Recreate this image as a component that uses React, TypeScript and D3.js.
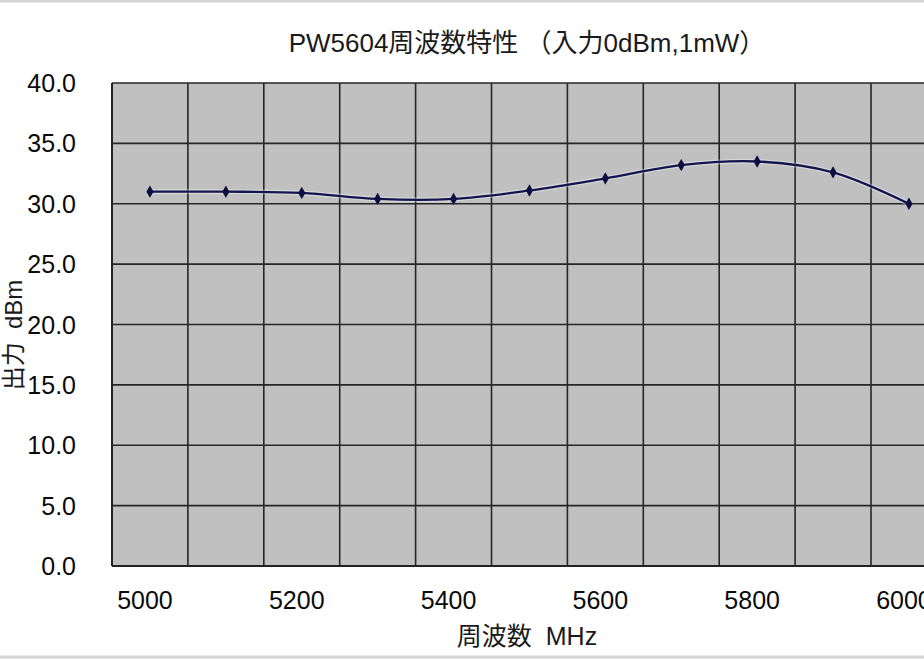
import React, { useRef, useEffect } from 'react';
import * as d3 from 'd3';

// 周波数 (MHz) and 出力 (dBm)
const frequencies = [5000, 5100, 5200, 5300, 5400, 5500, 5600, 5700, 5800, 5900, 6000];
const outputs = [31.0, 31.0, 30.9, 30.4, 30.4, 31.1, 32.1, 33.2, 33.5, 32.6, 30.0];
const xTickLabels = [5000, 5200, 5400, 5600, 5800, 6000];
const yTicks = [0, 5, 10, 15, 20, 25, 30, 35, 40];

const title = 'PW5604周波数特性\u00a0（入力0dBm,1mW）';
const xTitle = '周波数\u00a0\u00a0MHz';
const yTitle = '出力\u00a0\u00a0dBm';

const fontFamily = '"Liberation Sans", Arial, "Noto Sans CJK JP", sans-serif';

const App: React.FC = () => {
  const svgRef = useRef<SVGSVGElement>(null);
  const width = 924;
  const height = 660;
  const plot = { left: 112, top: 83, bottom: 566, band: 75.9 };

  useEffect(() => {
    if (!svgRef.current) return;
    const svg = d3.select(svgRef.current);
    svg.selectAll('*').remove();

    const x = d3.scaleBand<number>()
      .domain(frequencies)
      .range([plot.left, plot.left + plot.band * frequencies.length])
      .padding(0);

    const y = d3.scaleLinear()
      .domain([0, 40])
      .range([plot.bottom, plot.top]);

    const xCenter = (f: number) => (x(f) || 0) + x.bandwidth() / 2;
    const [x0, x1] = x.range();

    // page frame lines
    svg.append('rect').attr('x', 0).attr('y', 0).attr('width', width).attr('height', height).attr('fill', '#fff');
    svg.append('line').attr('x1', 0).attr('x2', width).attr('y1', 1).attr('y2', 1)
      .attr('stroke', '#d4d4d4').attr('stroke-width', 3);
    svg.append('line').attr('x1', 0).attr('x2', width).attr('y1', 657).attr('y2', 657)
      .attr('stroke', '#d4d4d4').attr('stroke-width', 3);

    // plot area
    svg.append('rect')
      .attr('x', x0).attr('y', plot.top)
      .attr('width', x1 - x0).attr('height', plot.bottom - plot.top)
      .attr('fill', '#c0c0c0');

    // horizontal grid
    svg.append('g')
      .selectAll('line')
      .data(yTicks.filter(t => t > 0))
      .join('line')
      .attr('x1', x0).attr('x2', x1)
      .attr('y1', d => y(d)).attr('y2', d => y(d))
      .attr('stroke', '#262626').attr('stroke-width', 1.6);

    // vertical grid at category boundaries
    svg.append('g')
      .selectAll('line')
      .data(frequencies.slice(1))
      .join('line')
      .attr('x1', d => x(d) || 0).attr('x2', d => x(d) || 0)
      .attr('y1', plot.top).attr('y2', plot.bottom)
      .attr('stroke', '#262626').attr('stroke-width', 1.6);

    // axes lines
    svg.append('line').attr('x1', x0).attr('x2', x0).attr('y1', plot.top).attr('y2', plot.bottom)
      .attr('stroke', '#222').attr('stroke-width', 2);
    svg.append('line').attr('x1', x0).attr('x2', x1).attr('y1', plot.bottom).attr('y2', plot.bottom)
      .attr('stroke', '#222').attr('stroke-width', 2);

    // series line
    const line = d3.line<number>()
      .x((_, i) => xCenter(frequencies[i]))
      .y(d => y(d))
      .curve(d3.curveCatmullRom.alpha(0));

    svg.append('path')
      .datum(outputs)
      .attr('d', line)
      .attr('fill', 'none')
      .attr('stroke', '#ffffff')
      .attr('stroke-opacity', 0.35)
      .attr('stroke-width', 5);

    svg.append('path')
      .datum(outputs)
      .attr('d', line)
      .attr('fill', 'none')
      .attr('stroke', '#14144e')
      .attr('stroke-width', 2.3);

    // diamond markers
    svg.append('g')
      .selectAll('path')
      .data(outputs)
      .join('path')
      .attr('transform', (d, i) => `translate(${xCenter(frequencies[i])},${y(d)})`)
      .attr('d', d3.symbol(d3.symbolDiamond, 44)())
      .attr('fill', '#0c0c40');

    // y tick labels
    svg.append('g')
      .selectAll('text')
      .data(yTicks)
      .join('text')
      .attr('x', 76)
      .attr('y', d => y(d) + 9)
      .attr('text-anchor', 'end')
      .attr('font-family', fontFamily)
      .attr('font-size', 25)
      .attr('fill', '#0a0a0a')
      .text(d => d.toFixed(1));

    // x tick labels
    svg.append('g')
      .selectAll('text')
      .data(xTickLabels)
      .join('text')
      .attr('x', d => xCenter(d) - 5)
      .attr('y', 609)
      .attr('text-anchor', 'middle')
      .attr('font-family', fontFamily)
      .attr('font-size', 25)
      .attr('fill', '#0a0a0a')
      .text(d => d);

    // titles
    svg.append('text')
      .attr('x', 527)
      .attr('y', 52)
      .attr('text-anchor', 'middle')
      .attr('font-family', fontFamily)
      .attr('font-size', 26)
      .attr('fill', '#1a1a1a')
      .text(title);

    svg.append('text')
      .attr('x', 527)
      .attr('y', 645)
      .attr('text-anchor', 'middle')
      .attr('font-family', fontFamily)
      .attr('font-size', 25)
      .attr('fill', '#1a1a1a')
      .text(xTitle);

    svg.append('text')
      .attr('transform', `translate(22,335) rotate(-90)`)
      .attr('text-anchor', 'middle')
      .attr('font-family', fontFamily)
      .attr('font-size', 24)
      .attr('fill', '#1a1a1a')
      .text(yTitle);
  }, []);

  return (
    <div style={{ position: 'absolute', left: 0, top: 0, width, height, overflow: 'hidden' }}>
      <svg ref={svgRef} width={width} height={height} style={{ display: 'block' }} />
    </div>
  );
};

export default App;
